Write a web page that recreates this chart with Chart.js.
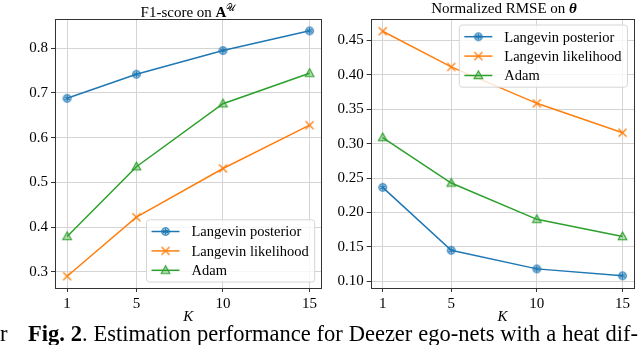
<!DOCTYPE html>
<html lang="en">
<head>
<meta charset="UTF-8">
<title>Estimation performance</title>
<style>
  body {
    margin: 0;
    width: 640px;
    height: 345px;
    overflow: hidden;
    background: #fff;
    font-family: 'Liberation Serif', serif;
    color: #000;
    position: relative;
  }
  .panel { position: absolute; top: 0; height: 326px; }
  .title {
    position: absolute;
    top: -1px;
    font-size: 15px;
    line-height: 18px;
    white-space: nowrap;
    transform: translateX(-50%);
  }
  .title sup { font-size: 10px; }
  .caption {
    position: absolute;
    top: 323px;
    left: 28px;
    width: 610px;
    font-size: 22.5px;
    line-height: 22px;
    white-space: nowrap;
    text-align: justify;
    text-align-last: justify;
  }
  .stray { position: absolute; top: 323px; left: 0px; font-size: 22.5px; line-height: 22px; }
</style>
</head>
<body>
  <div class="panel" style="left:0;width:330px"><canvas id="f1Chart"></canvas></div>
  <div class="panel" style="left:330px;width:310px"><canvas id="rmseChart"></canvas></div>

  <div class="title" style="left:188px">F1-score on <b>A</b><sup>𝒰</sup></div>
  <div class="title" style="left:504px">Normalized RMSE on <b><i>θ</i></b></div>

  <div class="stray">r</div>
  <div class="caption"><b>Fig. 2</b>. Estimation performance for Deezer ego-nets with a heat dif-</div>

  <script src="https://cdn.jsdelivr.net/npm/chart.js"></script>
  <script>
const kValues = [1, 5, 10, 15];
const seriesNames = ["Langevin posterior", "Langevin likelihood", "Adam"];

const f1Posterior = [0.688, 0.742, 0.795, 0.839];
const f1Likelihood = [0.290, 0.422, 0.531, 0.628];
const f1Adam = [0.379, 0.535, 0.676, 0.744];

const rmsePosterior = [0.2365, 0.145, 0.118, 0.108];
const rmseLikelihood = [0.4635, 0.4116, 0.3587, 0.316];
const rmseAdam = [0.309, 0.2428, 0.190, 0.165];

const xTicks = [1, 5, 10, 15];
const f1Ticks = [0.3, 0.4, 0.5, 0.6, 0.7, 0.8];
const rmseTicks = [0.10, 0.15, 0.20, 0.25, 0.30, 0.35, 0.40, 0.45];

const BLUE = "#1f77b4", ORANGE = "#ff7f0e", GREEN = "#2ca02c";
const FONT = "Liberation Serif";

// little canvases used as point styles (and in the legend)
function makeMarker(kind, color, fill) {
  const c = document.createElement("canvas");
  c.width = c.height = 13;
  const g = c.getContext("2d");
  const m = 6.5;
  g.strokeStyle = color;
  g.lineWidth = 1.1;
  g.beginPath();
  if (kind === "circle") {
    g.arc(m, m, 3.8, 0, 2 * Math.PI);
    g.fillStyle = fill;
    g.fill();
    g.stroke();
    g.beginPath();
    for (let a = 0; a < 3; a++) {
      const t = a * Math.PI / 3 + Math.PI / 2;
      g.moveTo(m + 3 * Math.cos(t), m + 3 * Math.sin(t));
      g.lineTo(m - 3 * Math.cos(t), m - 3 * Math.sin(t));
    }
    g.stroke();
  } else if (kind === "x") {
    g.lineWidth = 1.3;
    g.moveTo(m - 4, m - 4); g.lineTo(m + 4, m + 4);
    g.moveTo(m + 4, m - 4); g.lineTo(m - 4, m + 4);
    g.stroke();
  } else {
    g.moveTo(m, m - 4.6);
    g.lineTo(m - 4.3, m + 3.2);
    g.lineTo(m + 4.3, m + 3.2);
    g.closePath();
    g.fillStyle = fill;
    g.fill();
    g.stroke();
  }
  return c;
}

const markers = [
  makeMarker("circle", BLUE, "rgba(31,119,180,0.35)"),
  makeMarker("x", ORANGE),
  makeMarker("tri", GREEN, "rgba(44,160,44,0.35)")
];
const colors = [BLUE, ORANGE, GREEN];

function series(values, i) {
  return {
    label: seriesNames[i],
    data: values.map((v, j) => ({ x: kValues[j], y: v })),
    borderColor: colors[i],
    backgroundColor: colors[i],
    borderWidth: 1.5,
    pointStyle: markers[i],
    pointRadius: 4,
    tension: 0
  };
}

// axes frame drawn on all four sides
const frame = {
  id: "frame",
  afterDraw(chart) {
    const a = chart.chartArea, ctx = chart.ctx;
    ctx.save();
    ctx.strokeStyle = "#333";
    ctx.lineWidth = 1;
    ctx.strokeRect(Math.round(a.left) + 0.5, Math.round(a.top) + 0.5,
      Math.round(a.right - a.left) - 1, Math.round(a.bottom - a.top));
    ctx.restore();
  }
};

// legend box inside the plot, like matplotlib's
const boxLegend = {
  id: "boxLegend",
  afterDraw(chart, args, opts) {
    const ctx = chart.ctx, a = chart.chartArea;
    ctx.save();
    ctx.font = "14.5px '" + FONT + "'";
    const sets = chart.data.datasets;
    const textW = Math.max(...sets.map(d => ctx.measureText(d.label).width));
    const rowH = 19.4;
    const w = 45 + textW + 6, h = sets.length * rowH + 4;
    const x = a.right - 7 - w;
    const y = opts.corner === "upper" ? a.top + 6 : a.bottom - 6 - h;
    ctx.beginPath();
    ctx.roundRect(x, y, w, h, 3);
    ctx.fillStyle = "rgba(255,255,255,0.8)";
    ctx.fill();
    ctx.strokeStyle = "#d6d6d6";
    ctx.lineWidth = 1;
    ctx.stroke();
    sets.forEach((d, i) => {
      const cy = y + 2 + rowH * (i + 0.5);
      ctx.beginPath();
      ctx.strokeStyle = d.borderColor;
      ctx.lineWidth = 1.5;
      ctx.moveTo(x + 5, cy);
      ctx.lineTo(x + 33, cy);
      ctx.stroke();
      ctx.drawImage(d.pointStyle, x + 19 - 6.5, cy - 6.5);
      ctx.fillStyle = "#000";
      ctx.textBaseline = "middle";
      ctx.fillText(d.label, x + 45, cy + 1);
    });
    ctx.restore();
  }
};

function makeChart(id, datasets, yMin, yMax, yTicks, decimals, yWidth, padRight, corner) {
  return new Chart(document.getElementById(id), {
    type: "line",
    data: { datasets },
    plugins: [frame, boxLegend],
    options: {
      responsive: true,
      maintainAspectRatio: false,
      animation: false,
      layout: { padding: { top: 19, right: padRight, left: 0, bottom: 0 } },
      plugins: {
        legend: { display: false },
        tooltip: { enabled: false },
        boxLegend: { corner }
      },
      scales: {
        x: {
          type: "linear",
          min: 0.3,
          max: 15.7,
          afterBuildTicks: s => { s.ticks = xTicks.map(v => ({ value: v })); },
          afterFit: s => { s.height = 38; },
          border: { display: false },
          grid: { color: "#d4d4d4", tickColor: "#333", tickLength: 4 },
          ticks: { color: "#000", padding: 3, font: { family: FONT, size: 15 } },
          title: {
            display: true,
            text: "K",
            color: "#000",
            padding: 0,
            font: { family: FONT, size: 15, style: "italic" }
          }
        },
        y: {
          min: yMin,
          max: yMax,
          afterBuildTicks: s => { s.ticks = yTicks.map(v => ({ value: v })); },
          afterFit: s => { s.width = yWidth; },
          border: { display: false },
          grid: { color: "#d4d4d4", tickColor: "#333", tickLength: 4 },
          ticks: {
            color: "#000",
            padding: 3,
            font: { family: FONT, size: 15 },
            callback: v => v.toFixed(decimals)
          }
        }
      }
    }
  });
}

makeChart("f1Chart",
  [series(f1Posterior, 0), series(f1Likelihood, 1), series(f1Adam, 2)],
  0.2636, 0.8655, f1Ticks, 1, 55, 8.3, "lower");

makeChart("rmseChart",
  [series(rmsePosterior, 0), series(rmseLikelihood, 1), series(rmseAdam, 2)],
  0.0902, 0.4813, rmseTicks, 2, 40.7, 2, "upper");
  </script>
</body>
</html>
